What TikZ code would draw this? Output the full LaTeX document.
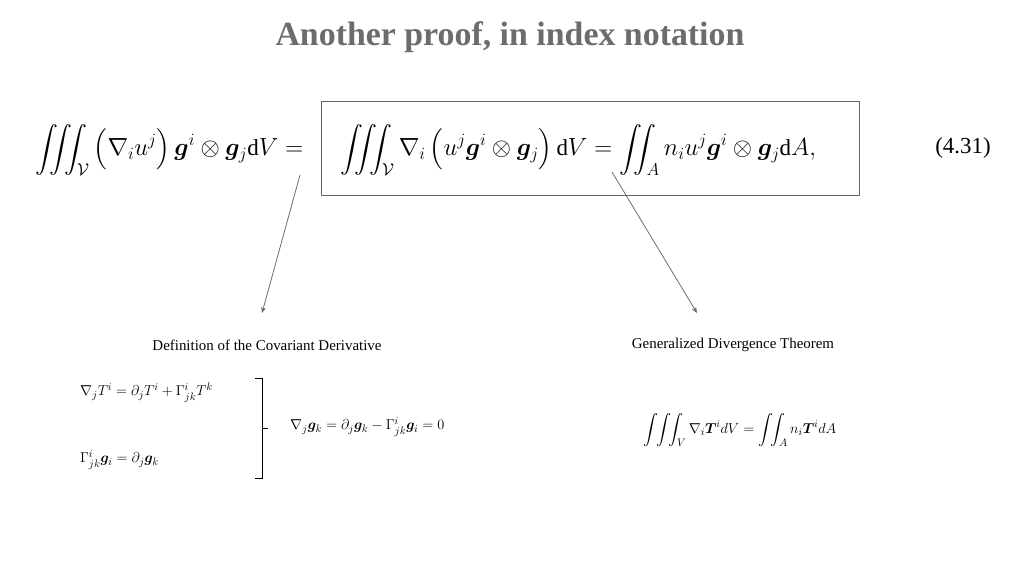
\documentclass[tikz,border=0pt]{standalone}
\usepackage{amsmath,amssymb,bm}
\usepackage{fontspec}
\setmainfont{Liberation Serif}
\tikzset{
  lbl/.style={font=\fontsize{15}{18}\selectfont, inner sep=0pt},
  eqsmall/.style={font=\fontsize{15}{18}\selectfont, inner sep=0pt, anchor=west},
  eqbig/.style={font=\fontsize{23}{28}\selectfont, inner sep=0pt},
  arr/.style={draw=gray!85!black, line width=0.8pt, -{Stealth[length=6pt,width=5pt]}},
}
\usetikzlibrary{arrows.meta}
\begin{document}
\begin{tikzpicture}[x=1bp,y=-1bp]
\useasboundingbox (0,0) rectangle (1024,576);
\node[font=\fontsize{34}{40}\selectfont\bfseries, text=gray!85!black] (title) at (510,37) {Another proof, in index notation};
\node[eqbig, anchor=west] (lhs) at (35,150) {$\displaystyle\iiint_{\mathcal V}\left(\nabla_i u^j\right)\bm g^i\otimes\bm g_j\mathrm dV=$};
\draw[gray!80!black, line width=0.8pt] (321,101) rectangle (859,195);
\node[eqbig, anchor=west] (rhs) at (340,150) {$\displaystyle\iiint_{\mathcal V}\nabla_i\left(u^j\bm g^i\otimes\bm g_j\right)\mathrm dV=\iint_{A}n_iu^j\bm g^i\otimes\bm g_j\mathrm dA,$};
\node[eqbig] (num) at (963,148) {(4.31)};
\coordinate (a1) at (300,175);
\coordinate (a2) at (612,172);
\node[lbl] (def) at (267,345) {Definition of the Covariant Derivative};
\node[lbl] (gdt) at (733,345) {Generalized Divergence Theorem};
\draw[arr] (a1) -- (262,313);
\draw[arr] (a2) -- (697,313);
\node[eqsmall] (e1) at (80,393) {$\nabla_jT^i=\partial_jT^i+\Gamma^i_{jk}T^k$};
\node[eqsmall] (e2) at (80,460) {$\Gamma^i_{jk}\bm g_i=\partial_j\bm g_k$};
\draw[line width=1pt] (255,378) -- (262,378) -- (262,478) -- (255,478);
\draw[line width=1pt] (262,428) -- (268,428);
\node[eqsmall] (e3) at (290,427) {$\nabla_j\bm g_k=\partial_j\bm g_k-\Gamma^i_{jk}\bm g_i=0$};
\node[eqsmall, anchor=center] (e4) at (740,430) {$\displaystyle\int\!\!\int\!\!\int_V\nabla_i\bm T^i dV=\int\!\!\int_A n_i\bm T^i dA$};
\end{tikzpicture}
\end{document}
